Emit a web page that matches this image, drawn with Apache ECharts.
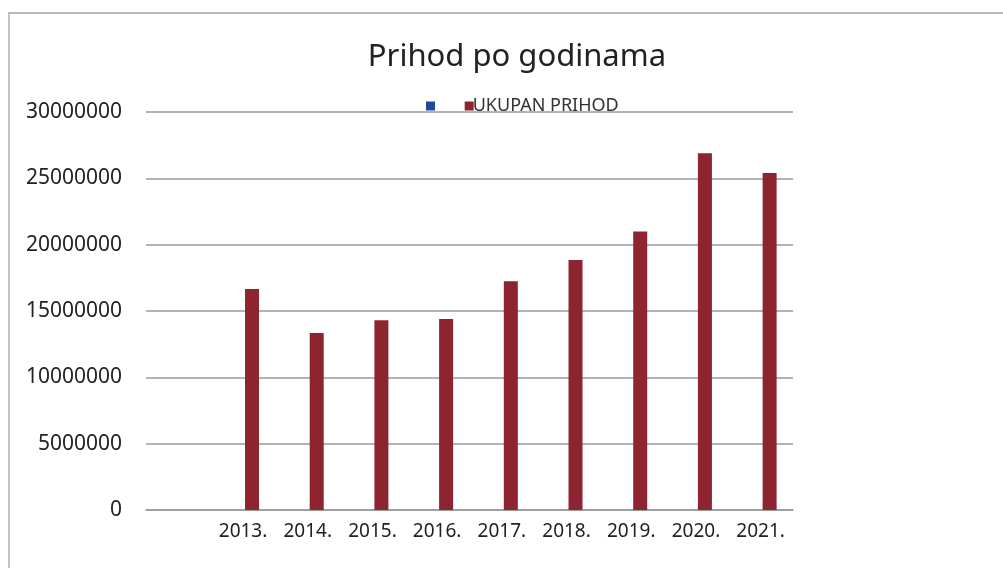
<!DOCTYPE html>
<html>
<head>
<meta charset="UTF-8">
<title>Prihod po godinama</title>
<script src="https://cdn.jsdelivr.net/npm/echarts@6/dist/echarts.min.js"></script>
<style>
    html, body { margin: 0; padding: 0; background: #fff; }
    #frame {
        position: absolute; left: 8px; top: 12px;
        width: 1100px; height: 600px;
        border-top: 2px solid #b8b8b8;
        border-left: 2px solid #c4c4c4;
    }
    #container { position: absolute; left: 0; top: 0; width: 1003px; height: 568px; }
</style>
</head>
<body>
<div id="frame"></div>
<div id="container"></div>
<script type="text/javascript">
    // kategorije (prva je prazna)
    var years = ['', '2013.', '2014.', '2015.', '2016.', '2017.', '2018.', '2019.', '2020.', '2021.'];
    // plava serija - bez vidljivih vrijednosti
    var blueValues = [0, 0, 0, 0, 0, 0, 0, 0, 0, 0];
    // ukupan prihod
    var prihod = [null, 16650000, 13350000, 14300000, 14400000, 17250000, 18850000, 21000000, 26900000, 25400000];
    var yTicks = [0, 5000000, 10000000, 15000000, 20000000, 25000000, 30000000];

    var font = 'Noto Sans';
    var myChart = echarts.init(document.getElementById('container'), null, { renderer: 'canvas' });
    var option = {
        animation: false,
        title: {
            text: 'Prihod po godinama',
            left: 512, top: 37, textAlign: 'center',
            textStyle: { fontFamily: font, fontSize: 31, fontWeight: 'normal', color: '#222' }
        },
        legend: {
            left: 421, top: 92,
            icon: 'rect', itemWidth: 9, itemHeight: 9, itemGap: 26,
            textStyle: { fontFamily: font, fontSize: 18, color: '#333', padding: [0, 0, 0, -6] },
            data: ['\u00a0', 'UKUPAN PRIHOD']
        },
        grid: { left: 146, right: 210, top: 112, bottom: 58 },
        xAxis: {
            type: 'category',
            data: years,
            axisLine: { lineStyle: { color: '#999', width: 1.5 } },
            axisTick: { show: false },
            axisLabel: { fontFamily: font, fontSize: 19, color: '#222', margin: 12 }
        },
        yAxis: {
            type: 'value',
            min: yTicks[0], max: yTicks[yTicks.length - 1], interval: 5000000,
            axisLine: { show: false },
            axisTick: { show: false },
            splitLine: { lineStyle: { color: '#9a9a9a', width: 1.5 } },
            axisLabel: {
                fontFamily: font, fontSize: 21, color: '#222', margin: 24,
                formatter: function (v) { return String(v); }
            }
        },
        series: [
            {
                name: '\u00a0', type: 'bar', data: blueValues,
                barWidth: 14, barGap: '28%',
                itemStyle: { color: '#1f4a9a' }
            },
            {
                name: 'UKUPAN PRIHOD', type: 'bar', data: prihod,
                barWidth: 14,
                itemStyle: { color: '#8e2430' }
            }
        ]
    };
    myChart.setOption(option);
</script>
</body>
</html>
